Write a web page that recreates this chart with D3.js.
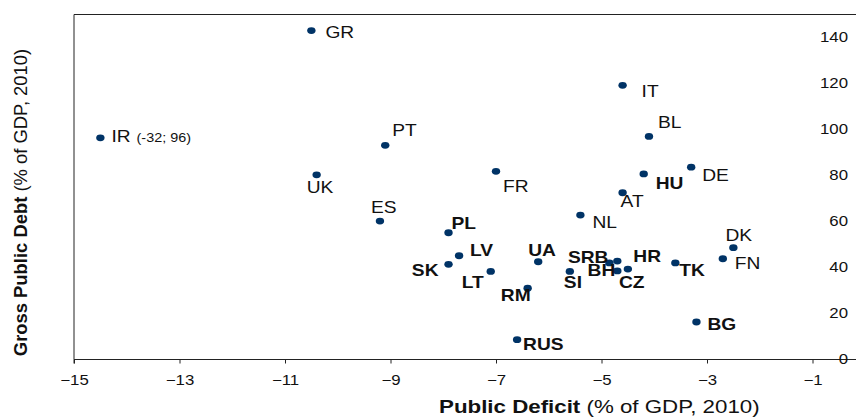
<!DOCTYPE html>
<html>
<head>
<meta charset="utf-8">
<script src="https://cdn.jsdelivr.net/npm/d3@7"></script>
<style>
  body { margin: 0; background: #fff; }
  svg { display: block; font-family: "Liberation Sans", Arial, sans-serif; }
</style>
</head>
<body>
<div id="chart"></div>
<script>
// data
const countries = ['GR','IR','PT','UK','ES','FR','IT','BL','HU','DE','AT','NL','PL','LV','SK','LT','UA','RM','RUS','SI','SRB','HR','BH','CZ','TK','DK','FN','BG'];
const deficit = [-10.5,-14.5,-9.1,-10.4,-9.2,-7.0,-4.6,-4.1,-4.2,-3.3,-4.6,-5.4,-7.9,-7.7,-7.9,-7.1,-6.2,-6.4,-6.6,-5.6,-4.85,-4.7,-4.7,-4.5,-3.6,-2.5,-2.7,-3.2];
const debt = [143,96.4,93.1,80.3,60.2,81.8,119.2,97,80.7,83.6,72.5,62.8,55.1,45.1,41.4,38.3,42.5,31,8.6,38.3,42,42.8,38.5,39.3,42,48.6,43.8,16.3];
const boldCountries = ['HU','PL','LV','SK','LT','UA','RM','RUS','SI','SRB','HR','BH','CZ','TK','BG'];
const notes = { IR: '(-32; 96)' };
const xTicks = [-15,-13,-11,-9,-7,-5,-3,-1];
const yTicks = [0,20,40,60,80,100,120,140];

// label placement relative to the marker: [dx, dy, anchor]
const labelPos = {
  GR:[14,7,'start'], IR:[11,4,'start'], PT:[7,-9,'start'], UK:[-10,18,'start'],
  ES:[-9,-8,'start'], FR:[7,21,'start'], IT:[19,12,'start'], BL:[9,-8,'start'],
  HU:[12,15,'start'], DE:[11,14,'start'], AT:[-2,14,'start'], NL:[12,13,'start'],
  PL:[3,-4,'start'], LV:[11,0,'start'], SK:[-10,12,'end'], LT:[-7,17,'end'],
  UA:[-10,-6,'start'], RM:[3,13,'end'], RUS:[6,10,'start'], SI:[-6,17,'start'],
  SRB:[-1,0,'end'], HR:[16,1,'start'], BH:[-2,5,'end'], CZ:[-9,19,'start'],
  TK:[4,13,'start'], DK:[-8,-7,'start'], FN:[12,10,'start'], BG:[11,8,'start']
};

const W = 856, H = 419;
const sx = 1.2; // the source picture is stretched horizontally

const data = countries.map((c, i) => ({ name: c, x: deficit[i], y: debt[i] }));

const svg = d3.select('#chart').append('svg')
  .attr('width', W).attr('height', H);

const x = d3.scaleLinear().domain([-15, -1]).range([74, 812.5]);
const y = d3.scaleLinear().domain([0, 150]).range([359.5, 14.5]);

// frame: top and left
svg.append('path')
  .attr('d', `M${W},${y(150)}H${x(-15)}V${y(0)}`)
  .attr('fill', 'none').attr('stroke', '#222').attr('stroke-width', 1);

// x axis
const xAxisG = svg.append('g')
  .attr('transform', `translate(0,${y(0)})`)
  .call(d3.axisBottom(x).tickValues(xTicks).tickSize(4).tickPadding(12).tickFormat(d3.format('d')));
xAxisG.select('.domain').attr('d', `M${x(-15)},4V0H${W}`).attr('stroke', '#222');
xAxisG.selectAll('.tick line').attr('stroke', '#222');
xAxisG.selectAll('.tick text')
  .attr('font-size', 14).attr('fill', '#111')
  .attr('font-family', '"Liberation Sans", Arial, sans-serif')
  .attr('transform', `scale(${sx},1)`);

// y axis labels sit at the right edge
const yAxisG = svg.append('g')
  .attr('transform', `translate(${W},0)`)
  .call(d3.axisLeft(y).tickValues(yTicks).tickSize(0).tickPadding(8 / sx));
yAxisG.select('.domain').remove();
yAxisG.selectAll('.tick text')
  .attr('font-size', 14).attr('fill', '#111')
  .attr('font-family', '"Liberation Sans", Arial, sans-serif')
  .attr('transform', `scale(${sx},1)`);

// markers
svg.append('g').selectAll('ellipse')
  .data(data)
  .join('ellipse')
  .attr('cx', d => x(d.x))
  .attr('cy', d => y(d.y))
  .attr('rx', 4.2).attr('ry', 3.4)
  .attr('fill', '#003366');

// country labels
const labels = svg.append('g').selectAll('text')
  .data(data)
  .join('text')
  .attr('transform', d => {
    const p = labelPos[d.name];
    return `translate(${x(d.x) + p[0]},${y(d.y) + p[1]}) scale(${sx},1)`;
  })
  .attr('text-anchor', d => labelPos[d.name][2])
  .attr('font-size', 16)
  .attr('font-weight', d => boldCountries.includes(d.name) ? 'bold' : 'normal')
  .attr('fill', '#111');
labels.append('tspan').text(d => d.name);
labels.filter(d => notes[d.name]).append('tspan')
  .attr('dx', 5).attr('font-size', 12)
  .text(d => notes[d.name]);

// axis titles
const xTitle = svg.append('text')
  .attr('transform', `translate(439,413) scale(${sx},1)`)
  .attr('font-size', 18.6).attr('fill', '#111');
xTitle.append('tspan').attr('font-weight', 'bold').text('Public Deficit');
xTitle.append('tspan').text(' (% of GDP, 2010)');

const yTitle = svg.append('text')
  .attr('transform', 'translate(26.5,202.5) rotate(-90)')
  .attr('text-anchor', 'middle')
  .attr('font-size', 18.4).attr('fill', '#111');
yTitle.append('tspan').attr('font-weight', 'bold').text('Gross Public Debt');
yTitle.append('tspan').text(' (% of GDP, 2010)');
</script>
</body>
</html>
